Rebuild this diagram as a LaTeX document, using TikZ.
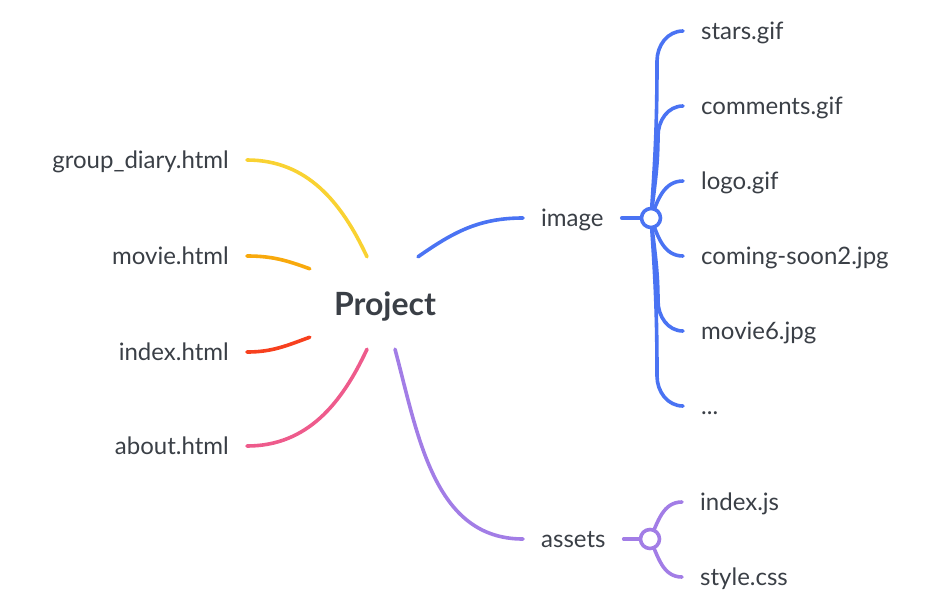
\documentclass[tikz,border=0pt]{standalone}
\usepackage{fontspec}
\setmainfont{Lato}
\usetikzlibrary{calc}
\definecolor{cyel}{HTML}{F9D232}
\definecolor{cora}{HTML}{F8A90C}
\definecolor{cred}{HTML}{F7401E}
\definecolor{cpink}{HTML}{EE5B8C}
\definecolor{cblue}{HTML}{4A73F3}
\definecolor{cpur}{HTML}{A27DE6}
\definecolor{ctext}{HTML}{3A3F46}
\tikzset{
  leaf/.style={text=ctext, font=\fontsize{24}{28}\selectfont, inner xsep=18pt, inner ysep=0pt, text height=17pt, text depth=0pt},
  leafR/.style={leaf, anchor=west},
  leafL/.style={leaf, anchor=east},
  conn/.style={line width=3.6pt, line cap=round},
  hub/.style={circle, fill=white, line width=3.6pt, minimum size=19pt, inner sep=0pt},
}
\begin{document}
\begin{tikzpicture}[x=1pt,y=-1pt]
\useasboundingbox (0,0) rectangle (931,611);
% central topic
\node[minimum width=150pt, minimum height=92pt, inner sep=0pt, text=ctext,
      text height=24pt, text depth=0pt,
      font=\fontsize{32}{38}\selectfont\bfseries] (proj) at (385,303) {Project};
% left leaves
\node[leafL] (gd) at (247,160) {group\_diary.html};
\node[leafL] (mv) at (247,256) {movie.html};
\node[leafL] (ix) at (247,352) {index.html};
\node[leafL] (ab) at (247,446) {about.html};
% main branches right
\node[leafR] (img) at (523,218) {image};
\node[leafR] (ast) at (523,539) {assets};
% hubs coordinates
\coordinate (ih) at (651,218);
\coordinate (ah) at (650,539);
% image children
\node[leafR] (c1) at (683,31) {stars.gif};
\node[leafR] (c2) at (683,106) {comments.gif};
\node[leafR] (c3) at (683,181) {logo.gif};
\node[leafR] (c4) at (683,256) {coming-soon2.jpg};
\node[leafR] (c5) at (683,331) {movie6.jpg};
\node[leafR] (c6) at (683,406) {...};
% assets children
\node[leafR] (d1) at (682,502) {index.js};
\node[leafR] (d2) at (682,577) {style.css};

% connectors from Project
\draw[conn, cyel] (gd.east) to[out=0,in=115] ([xshift=-18pt]proj.north);
\draw[conn, cora] (mv.east) to[out=0,in=160] ([yshift=-12pt]proj.north west);
\draw[conn, cred] (ix.east) to[out=0,in=200] ([yshift=12pt]proj.south west);
\draw[conn, cpink] (ab.east) to[out=0,in=245] ([xshift=-18pt]proj.south);
\draw[conn, cblue] ([xshift=33pt]proj.north) to[out=35,in=180] (img.west);
\draw[conn, cpur] ([xshift=10pt]proj.south) to[out=-75,in=180] (ast.west);

% image sub-branches
\draw[conn, cblue] (img.east) -- (ih);
\draw[conn, cblue] (ih) to[out=86,in=-90] ($(c1.west)+(-26pt,-30pt)$) to[out=90,in=180] (c1.west);
\draw[conn, cblue] (ih) to[out=84,in=-90] ($(c2.west)+(-25pt,-30pt)$) to[out=90,in=180] (c2.west);
\draw[conn, cblue] (ih) to[out=70,in=180] (c3.west);
\draw[conn, cblue] (ih) to[out=-70,in=180] (c4.west);
\draw[conn, cblue] (ih) to[out=-84,in=90] ($(c5.west)+(-25pt,30pt)$) to[out=-90,in=180] (c5.west);
\draw[conn, cblue] (ih) to[out=-86,in=90] ($(c6.west)+(-26pt,30pt)$) to[out=-90,in=180] (c6.west);
\node[hub, draw=cblue] (ihub) at (ih) {};

% assets sub-branches
\draw[conn, cpur] (ast.east) -- (ah);
\draw[conn, cpur] (ah) to[out=65,in=180] (d1.west);
\draw[conn, cpur] (ah) to[out=-65,in=180] (d2.west);
\node[hub, draw=cpur] (ahub) at (ah) {};
\end{tikzpicture}
\end{document}
